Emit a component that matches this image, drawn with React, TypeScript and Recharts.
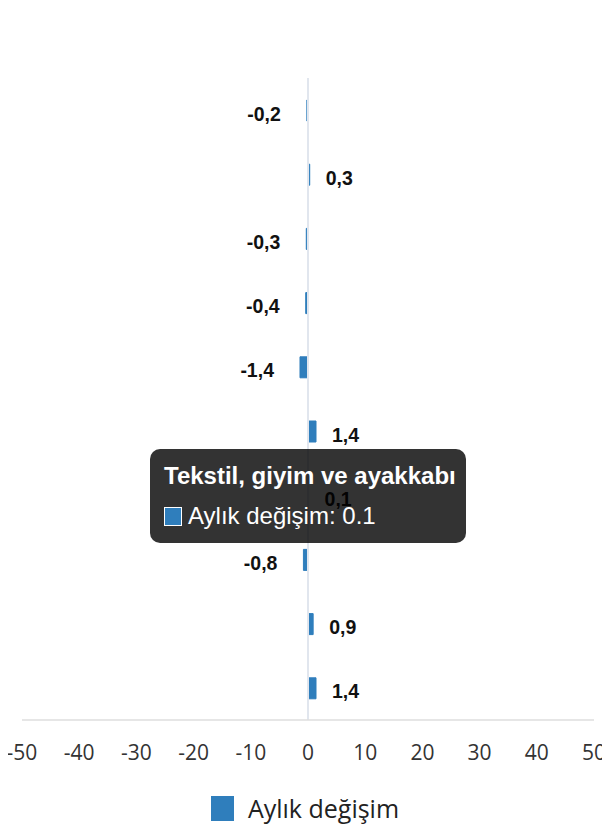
import React from 'react';
import {
  BarChart, Bar, XAxis, YAxis, Tooltip, Legend, LabelList, ReferenceLine
} from 'recharts';

const categories = [
  'Gıda ürünleri',
  'İçecekler',
  'Tütün ürünleri',
  'Kağıt ürünleri',
  'Kimyasallar',
  'Metal ürünleri',
  'Tekstil, giyim ve ayakkabı',
  'Mobilya',
  'Elektrikli teçhizat',
  'Motorlu kara taşıtları',
];
const monthlyChange = [-0.2, 0.3, -0.3, -0.4, -1.4, 1.4, 0.1, -0.8, 0.9, 1.4];
const xTicks = [-50, -40, -30, -20, -10, 0, 10, 20, 30, 40, 50];

const seriesName = 'Aylık değişim';
const barColor = '#2f7ebc';

const data = categories.map((name, i) => ({ name, v: monthlyChange[i] }));

function BarValueLabel(props: any) {
  const { x, y, width, height, value } = props;
  const left = Math.min(x, x + width);
  const right = Math.max(x, x + width);
  const cy = y + height / 2 + 3;
  const txt = String(value).replace('.', ',');
  const pos = value >= 0;
  return (
    <text
      x={pos ? right + 16 : left - 26}
      y={cy}
      textAnchor={pos ? 'start' : 'end'}
      dominantBaseline="central"
      fontFamily="'Liberation Sans', Arial, sans-serif"
      fontWeight={700}
      fontSize={19.5}
      fill="#111"
    >
      {txt}
    </text>
  );
}

function DarkTooltip({ active, payload }: any) {
  if (!active || !payload || !payload.length) return null;
  const p = payload[0];
  return (
    <div style={{
      background: 'rgba(0,0,0,0.8)', borderRadius: '10px', padding: '12px 14px 12px 14px',
      fontFamily: "'Liberation Sans', Arial, sans-serif", color: '#fff', width: '288px',
    }}>
      <div style={{ fontSize: '24px', fontWeight: 700, lineHeight: '30px', whiteSpace: 'nowrap' }}>{p.payload.name}</div>
      <div style={{ display: 'flex', alignItems: 'center', marginTop: '10px', fontSize: '24px', lineHeight: '30px' }}>
        <span style={{ width: '18px', height: '19px', background: barColor, border: '1px solid #fff', marginRight: '6px', boxSizing: 'border-box' }} />
        <span>{seriesName}: {p.value}</span>
      </div>
    </div>
  );
}

function LegendBox() {
  return (
    <div style={{ height: '40px', display: 'flex', alignItems: 'center', justifyContent: 'center', fontFamily: "'Open Sans', sans-serif" }}>
      <span style={{ width: '23px', height: '25px', background: barColor, marginRight: '14px', marginLeft: '-6px' }} />
      <span style={{ fontSize: '25px', color: '#222' }}>{seriesName}</span>
    </div>
  );
}

export default function App() {
  return (
    <div style={{ width: 602, height: 820 }}>
      <BarChart
        width={602}
        height={820}
        data={data}
        layout="vertical"
        margin={{ top: 70, right: 16, bottom: 0, left: 14 }}
      >
        <XAxis
          type="number"
          domain={[-50, 50]}
          ticks={xTicks}
          interval={0}
          height={68}
          tickLine={false}
          tickMargin={19}
          axisLine={{ stroke: '#dedede', strokeWidth: 1.5 }}
          tick={{ fill: '#333', fontSize: 21, fontFamily: "'Open Sans', sans-serif" }}
        />
        <YAxis type="category" dataKey="name" hide />
        <ReferenceLine x={0} stroke="#e1e6ee" strokeWidth={2} />
        <Tooltip
          active
          defaultIndex={6}
          trigger="click"
          cursor={false}
          position={{ x: 142, y: 441 }}
          content={<DarkTooltip />}
          isAnimationActive={false}
        />
        <Legend verticalAlign="bottom" content={<LegendBox />} />
        <Bar dataKey="v" name={seriesName} fill={barColor} stroke={barColor} strokeWidth={1} barSize={21} isAnimationActive={false}>
          <LabelList dataKey="v" content={<BarValueLabel />} />
        </Bar>
      </BarChart>
    </div>
  );
}
